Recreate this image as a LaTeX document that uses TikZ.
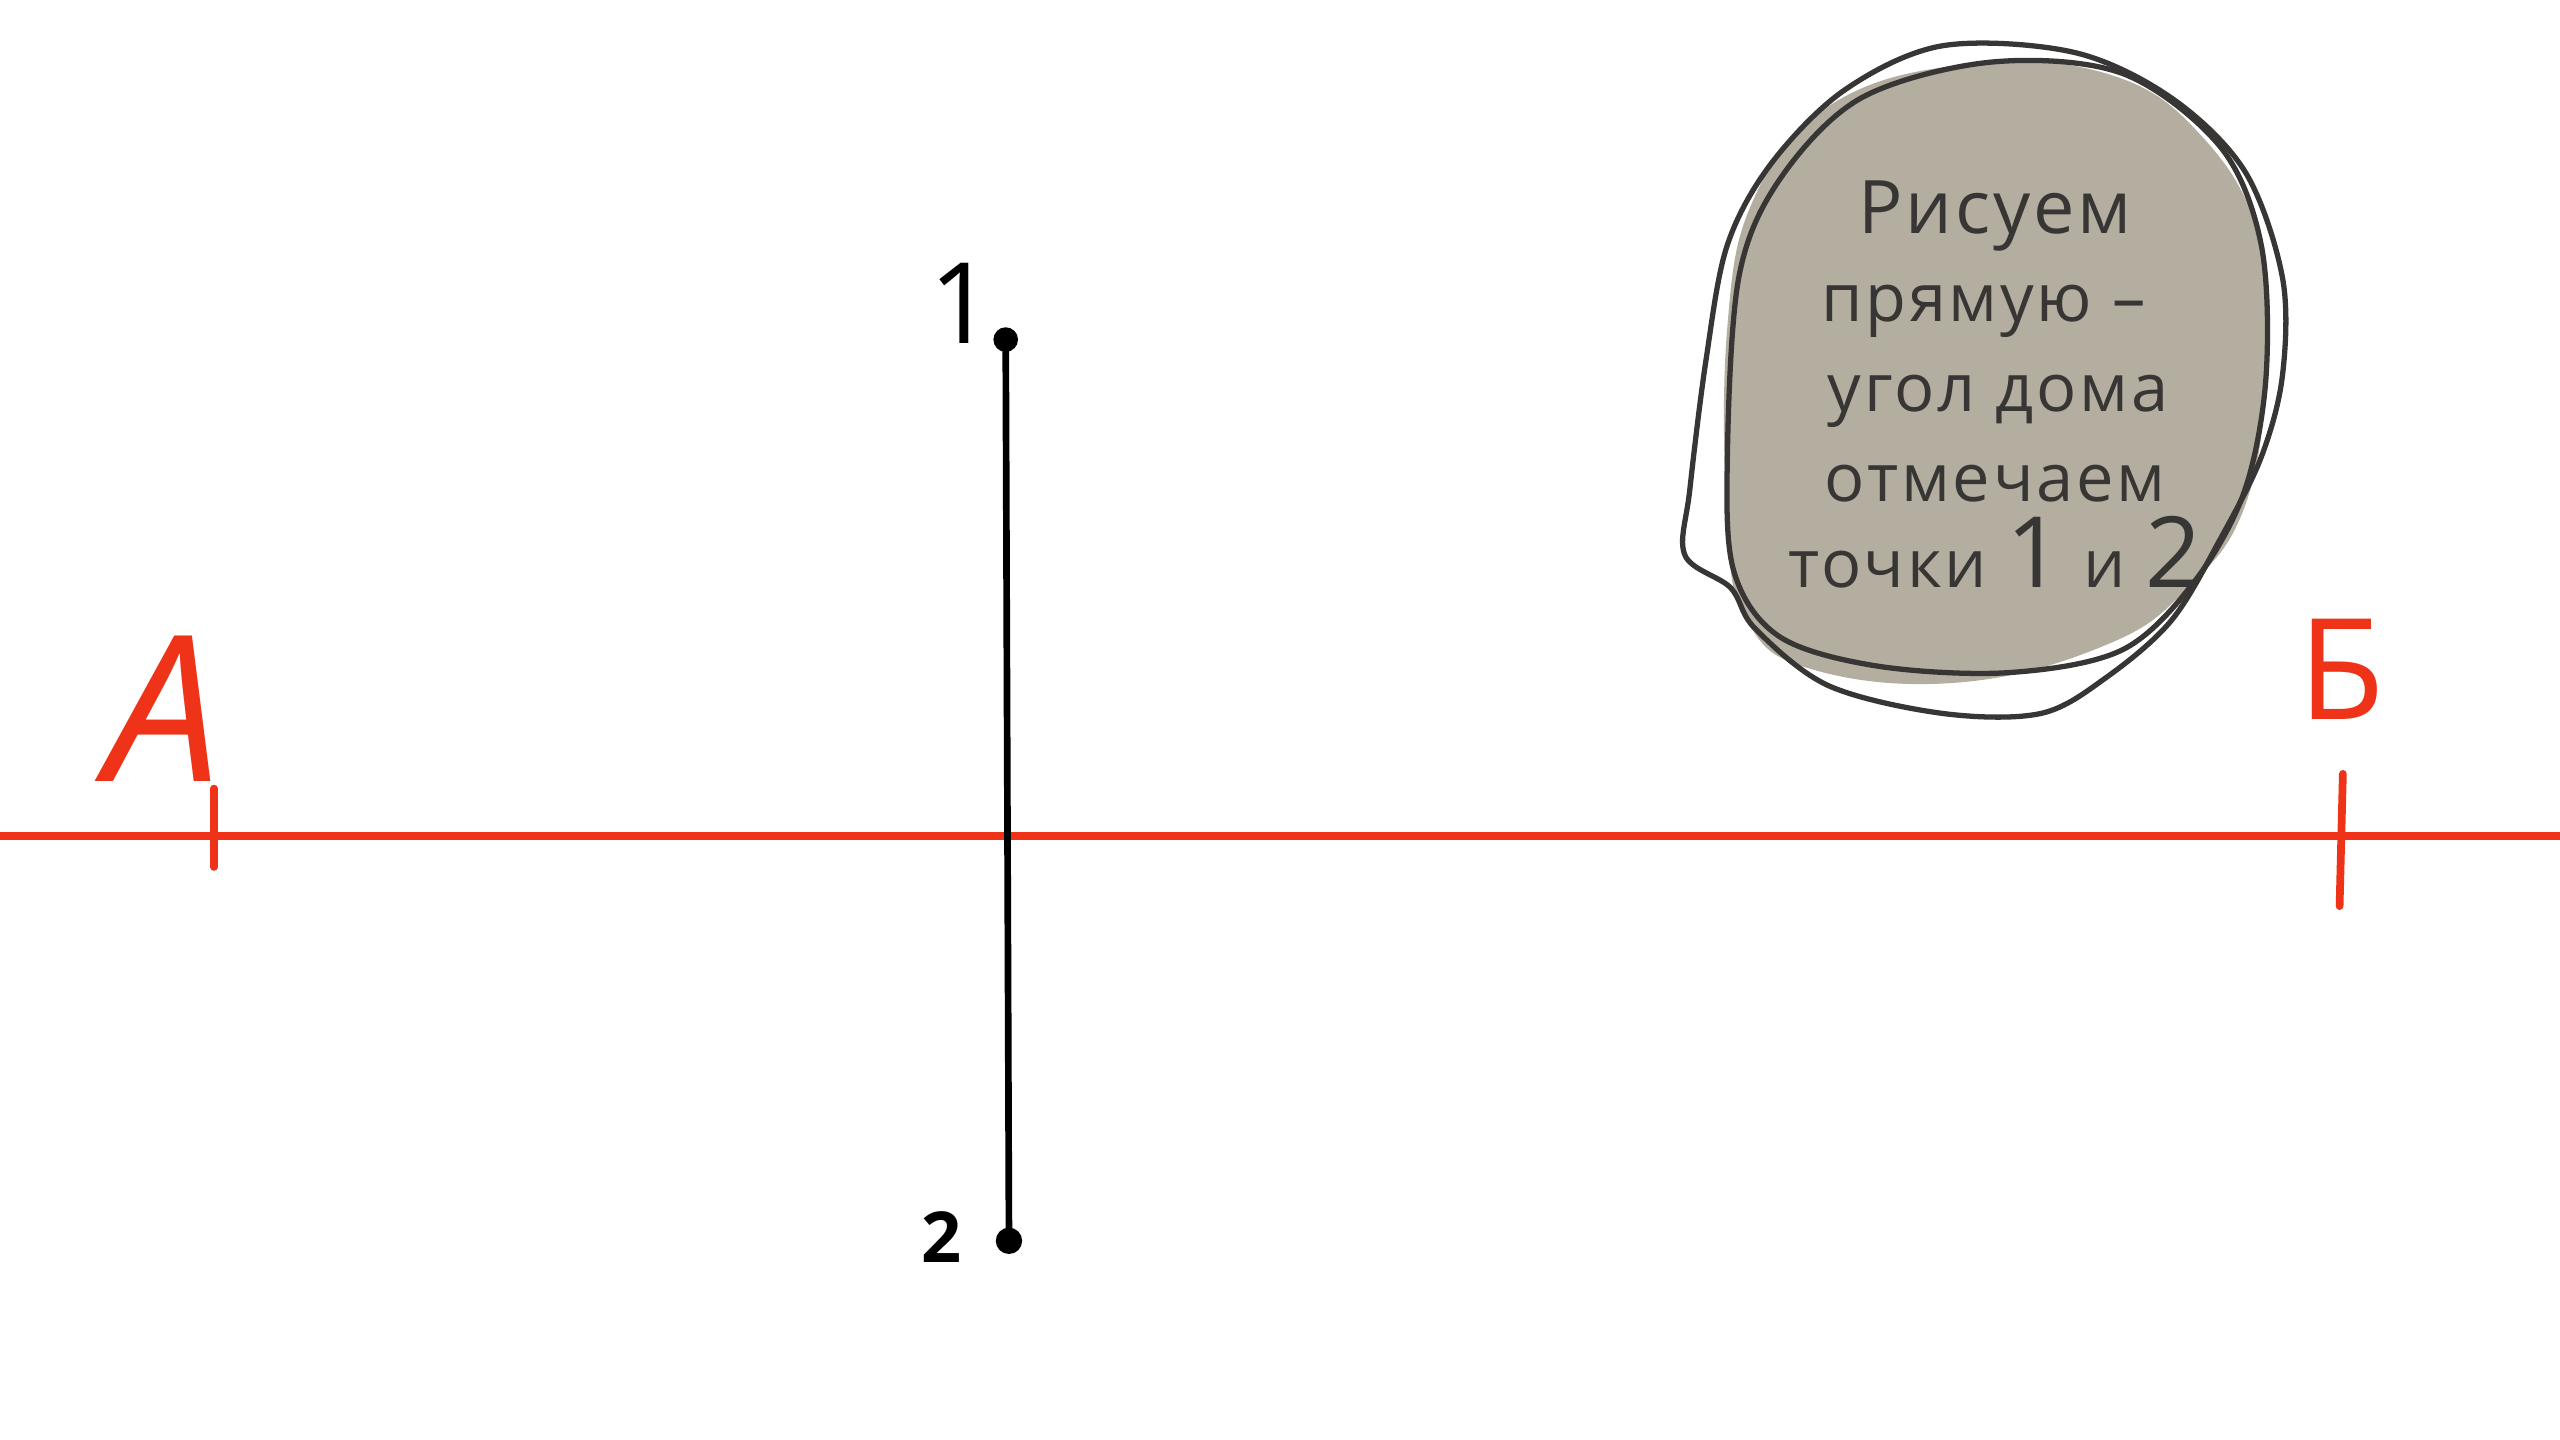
\documentclass[tikz,border=0pt]{standalone}
\usepackage{fontspec}
\setmainfont{Open Sans}
\definecolor{redink}{HTML}{EE3318}
\definecolor{blobgray}{HTML}{B3AEA0}
\definecolor{pencil}{HTML}{383634}
\tikzset{
  redstroke/.style={draw=redink, line width=2.2pt, line cap=round},
  loopstroke/.style={draw=pencil, line width=1.5pt},
  blobtext/.style={text=pencil, anchor=base, inner sep=0pt, font=\fontsize{19}{22}\selectfont\addfontfeature{LetterSpace=4}},
  dotnode/.style={circle, fill=black, inner sep=0pt, minimum size=#1},
  labeltext/.style={inner sep=0pt}
}
\begin{document}
\begin{tikzpicture}[x=0.016327cm,y=-0.016327cm]
\useasboundingbox (0,0) rectangle (1568,882);
\fill[white] (0,0) rectangle (1568,882);

% blob fill
\fill[blobgray] plot[smooth cycle, tension=0.7] coordinates {
 (1058,200) (1075,120) (1120,65) (1200,40) (1290,45) (1350,85) (1385,150)
 (1388,230) (1375,310) (1340,360) (1290,395) (1200,418) (1110,410) (1070,380) (1058,320)};

% outline loops
\draw[loopstroke] plot[smooth cycle, tension=0.55] coordinates {
 (1190,28) (1270,32) (1330,60) (1375,105) (1398,170) (1398,230) (1385,280)
 (1360,330) (1330,380) (1290,415) (1250,437) (1190,437) (1120,420) (1075,385)
 (1060,360) (1032,340) (1035,300) (1045,220) (1058,150) (1085,100) (1130,55)};
\draw[loopstroke] plot[smooth cycle, tension=0.55] coordinates {
 (1140,60) (1220,38) (1300,45) (1360,90) (1385,150) (1388,230) (1375,300)
 (1345,355) (1300,398) (1230,412) (1150,408) (1090,390) (1062,350) (1058,280)
 (1065,170) (1090,110)};

% blob text
\node[blobtext] (t1) at (1222,143) {\fontsize{21}{24}\selectfont Рисуем};
\node[blobtext] (t2) at (1215,197) {прямую –};
\node[blobtext] (t3) at (1224,252) {угол дома};
\node[blobtext] (t4) at (1222,307) {отмечаем};
\node[blobtext] (t5) at (1222,360) {точки {\fontsize{28}{30}\selectfont 1} и {\fontsize{28}{30}\selectfont 2}};

% red axis
\coordinate (left) at (0,512);
\coordinate (right) at (1568,512);
\draw[redstroke, line cap=butt] (left) -- (right);
\coordinate (ta1) at (131,483);
\coordinate (ta2) at (131,531);
\draw[redstroke] (ta1) -- (ta2);
\coordinate (tb1) at (1435,474);
\coordinate (tb2) at (1433,555);
\draw[redstroke] (tb1) -- (tb2);
\node[labeltext, text=redink, font=\fontsize{58}{62}\selectfont\itshape] (la) at (100,434) {А};
\node[labeltext, text=redink, font=\fontsize{40}{44}\selectfont] (lb) at (1434,410) {Б};

% black vertical segment
\node[dotnode=7pt] (p1) at (616,208) {};
\node[dotnode=7.5pt] (p2) at (618,760) {};
\draw[line width=1.9pt] (p1.center) -- (p2.center);
\node[labeltext, font=\fontsize{32}{36}\selectfont] (l1) at (589,186) {1};
\node[labeltext, font=\fontsize{20}{24}\selectfont\bfseries] (l2) at (577,758) {2};
\end{tikzpicture}
\end{document}
